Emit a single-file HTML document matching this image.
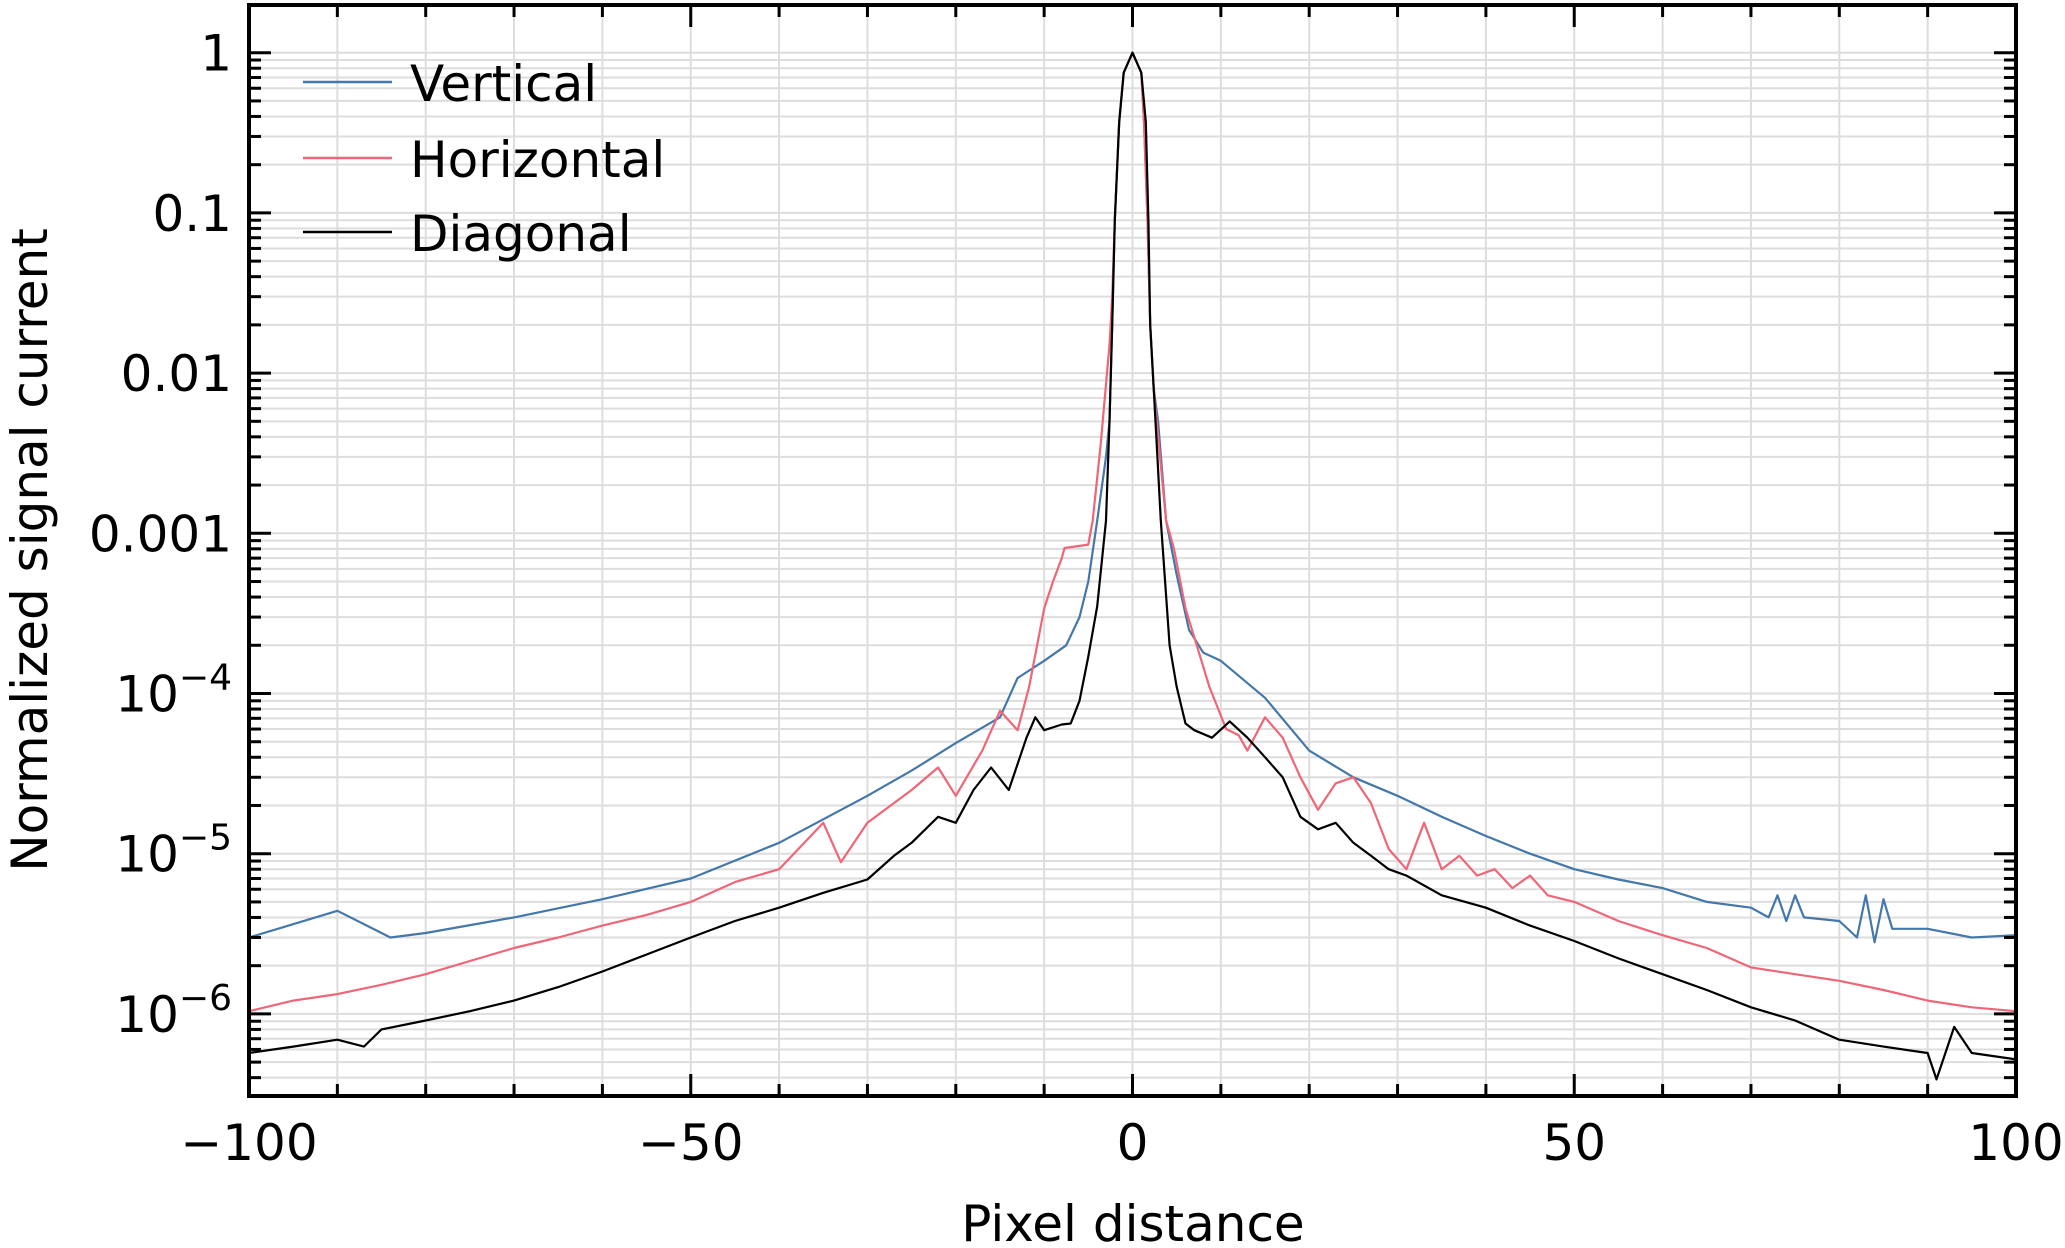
<!DOCTYPE html>
<html><head><meta charset="utf-8"><style>
html,body{margin:0;padding:0;background:#fff;}
svg{display:block;font-family:"DejaVu Sans","Liberation Sans",sans-serif;}
</style></head><body>
<svg id="chart" width="2065" height="1248" viewBox="0 0 2065 1248" xmlns="http://www.w3.org/2000/svg">
<g id="grid"></g>
<g id="series"></g>
<g id="ticks"></g>
<rect x="249" y="5" width="1767" height="1091" fill="none" stroke="#000" stroke-width="4"/>
<g id="labels"></g>
<text x="1133" y="1241" font-size="50" text-anchor="middle">Pixel distance</text>
<text transform="translate(47,550) rotate(-90)" font-size="50" text-anchor="middle">Normalized signal current</text>
<g>
<line x1="303" y1="82" x2="392" y2="82" stroke="#4477aa" stroke-width="2.5"/>
<text x="410" y="101" font-size="50">Vertical</text>
<line x1="303" y1="158" x2="392" y2="158" stroke="#ee6677" stroke-width="2.5"/>
<text x="410" y="177" font-size="50">Horizontal</text>
<line x1="303" y1="232" x2="392" y2="232" stroke="#000" stroke-width="2.5"/>
<text x="410" y="251" font-size="50">Diagonal</text>
</g>
</svg>
<script>
const verticalX=[-100,-90,-84,-80,-70,-60,-50,-40,-30,-25,-20,-15,-13,-10,-7.5,-6,-5,-4,-3,-2.6,-2.3,-2,-1.5,-1,0,1,1.3,1.7,2,2.4,2.9,3.8,5,6.4,8,10,15,20,25,30,35,40,45,50,55,60,65,70,72,73,74,75,76,80,82,83,84,85,86,90,95,100];
const verticalY=[3.0e-6,4.4e-6,3.0e-6,3.2e-6,4.0e-6,5.2e-6,7.0e-6,1.17e-5,2.3e-5,3.3e-5,4.9e-5,7.1e-5,1.25e-4,1.6e-4,2.0e-4,3.0e-4,5.0e-4,1.2e-3,3.0e-3,5.0e-3,0.02,0.09,0.37,0.75,1,0.75,0.37,0.09,0.02,8e-3,5e-3,1.2e-3,5.5e-4,2.5e-4,1.8e-4,1.6e-4,9.4e-5,4.4e-5,3.0e-5,2.3e-5,1.7e-5,1.29e-5,1.0e-5,8.0e-6,6.9e-6,6.1e-6,5.0e-6,4.6e-6,4.0e-6,5.5e-6,3.8e-6,5.5e-6,4.0e-6,3.8e-6,3.0e-6,5.5e-6,2.8e-6,5.2e-6,3.4e-6,3.4e-6,3.0e-6,3.1e-6];
const horizontalX=[-100,-95,-90,-85,-80,-75,-70,-65,-60,-55,-50,-45,-40,-35,-33,-30,-25,-22,-20,-17,-15,-13,-11.7,-10,-9,-8,-7.7,-5,-4.5,-3.6,-2.6,-2.3,-2,-1.5,-1,0,1,1.3,1.7,2,2.4,3,3.8,4.7,6,8.7,10.6,12,13,15,17,19,21,23,25,27,29,31,33,35,37,39,41,43,45,47,50,55,60,65,70,75,80,85,90,95,100];
const horizontalY=[1.04e-6,1.21e-6,1.33e-6,1.52e-6,1.77e-6,2.14e-6,2.58e-6,3.0e-6,3.56e-6,4.15e-6,5.0e-6,6.65e-6,8.0e-6,1.56e-5,8.85e-6,1.56e-5,2.5e-5,3.45e-5,2.3e-5,4.4e-5,7.8e-5,5.9e-5,1.1e-4,3.4e-4,5.0e-4,7.0e-4,8.1e-4,8.5e-4,1.2e-3,3.6e-3,1.5e-2,0.03,0.09,0.37,0.75,1,0.75,0.37,0.09,0.02,8e-3,3.5e-3,1.2e-3,8e-4,3.4e-4,1.1e-4,6.0e-5,5.5e-5,4.4e-5,7.1e-5,5.3e-5,3.0e-5,1.88e-5,2.75e-5,3.0e-5,2.07e-5,1.07e-5,8.0e-6,1.56e-5,8.0e-6,9.7e-6,7.3e-6,8.0e-6,6.1e-6,7.3e-6,5.5e-6,5.0e-6,3.8e-6,3.1e-6,2.58e-6,1.95e-6,1.77e-6,1.61e-6,1.41e-6,1.21e-6,1.1e-6,1.04e-6];
const diagonalX=[-100,-95,-90,-87,-85,-80,-75,-70,-65,-60,-55,-50,-45,-40,-35,-30,-27,-25,-22,-20,-18,-16,-14,-12,-11,-10,-8,-7,-6,-5,-4,-3,-2.6,-2.3,-2,-1.5,-1,0,1,1.5,1.8,2,2.6,3.2,4.2,5,6,7,9,11,13,15,17,19,21,23,25,27,29,31,35,40,45,50,55,60,65,70,75,80,85,90,91,93,95,100];
const diagonalY=[5.7e-7,6.25e-7,6.9e-7,6.25e-7,8.0e-7,9.1e-7,1.04e-6,1.21e-6,1.47e-6,1.84e-6,2.35e-6,3.0e-6,3.8e-6,4.6e-6,5.7e-6,6.9e-6,9.7e-6,1.17e-5,1.7e-5,1.56e-5,2.5e-5,3.45e-5,2.5e-5,5.3e-5,7.1e-5,5.9e-5,6.4e-5,6.5e-5,9.0e-5,1.7e-4,3.5e-4,1.2e-3,5e-3,0.02,0.09,0.37,0.75,1,0.75,0.37,0.09,0.02,5e-3,1.2e-3,2.0e-4,1.1e-4,6.5e-5,5.9e-5,5.3e-5,6.7e-5,5.3e-5,4.0e-5,3.0e-5,1.7e-5,1.42e-5,1.56e-5,1.17e-5,9.7e-6,8.0e-6,7.3e-6,5.5e-6,4.6e-6,3.56e-6,2.85e-6,2.22e-6,1.77e-6,1.41e-6,1.1e-6,9.1e-7,6.9e-7,6.25e-7,5.7e-7,3.9e-7,8.3e-7,5.7e-7,5.2e-7];
const xTickValues=[-100,-50,0,50,100];
const xTickLabels=["\u2212100","\u221250","0","50","100"];
const yTickExps=[0,-1,-2,-3,-4,-5,-6];
const yTickLabels=["1","0.1","0.01","0.001","10|\u22124","10|\u22125","10|\u22126"];

const NS="http://www.w3.org/2000/svg";
const L=249,R=2016,T=5,B=1096;
const Y0=52.7, DEC=160.2;
function sx(x){return L+(x+100)/200*(R-L);}
function sy(v){return Y0-Math.log10(v)*DEC;}
function mk(tag,attrs,parent){const e=document.createElementNS(NS,tag);for(const k in attrs)e.setAttribute(k,attrs[k]);parent.appendChild(e);return e;}
const grid=document.getElementById('grid'),ticks=document.getElementById('ticks'),labels=document.getElementById('labels'),series=document.getElementById('series');
for(let x=-100;x<=100;x+=10){
  const X=sx(x);const major=x%50===0;
  const g=mk('line',{x1:X,x2:X,y1:T,y2:B,stroke:'#dddddd','stroke-width':2},grid);
  
  
  const len=major?22:12;
  const t1=mk('line',{x1:X,x2:X,y1:B,y2:B-len,stroke:'#000','stroke-width':3},ticks);
  
  
  const t2=mk('line',{x1:X,x2:X,y1:T,y2:T+len,stroke:'#000','stroke-width':3},ticks);
  
  
}
for(let e=-7;e<=0;e++){
  for(let m=1;m<=9;m++){
    const v=m*Math.pow(10,e);const Y=sy(v);
    if(Y<T||Y>B)continue;
    const major=m===1;
    const g=mk('line',{x1:L,x2:R,y1:Y,y2:Y,stroke:'#dddddd','stroke-width':2},grid);
    
    
    const len=major?22:12;
    const t1=mk('line',{x1:L,x2:L+len,y1:Y,y2:Y,stroke:'#000','stroke-width':3},ticks);
    
    
    const t2=mk('line',{x1:R,x2:R-len,y1:Y,y2:Y,stroke:'#000','stroke-width':3},ticks);
    
    
  }
}
xTickValues.forEach((v,i)=>{
  const t=mk('text',{x:sx(v),y:1160,'font-size':50,'text-anchor':'middle'},labels);
  t.textContent=xTickLabels[i];
  
  
});
yTickExps.forEach((e,i)=>{
  const Y=sy(Math.pow(10,e));
  const parts=yTickLabels[i].split('|');
  const t=mk('text',{x:232,y:Y+18,'font-size':50,'text-anchor':'end'},labels);
  
  
  if(parts.length===1){t.textContent=parts[0];}
  else{
    const a=mk('tspan',{},t);a.textContent=parts[0];
    const b=mk('tspan',{dy:-22,'font-size':36},t);b.textContent=parts[1];
  }
});
function drawSeries(xs,ys,color,name){
  const d=xs.map((x,i)=>(i?'L':'M')+sx(x).toFixed(1)+','+sy(ys[i]).toFixed(1)).join('');
  const p=mk('path',{d:d,fill:'none',stroke:color,'stroke-width':2.2,'stroke-linejoin':'round'},series);
  
  
}
drawSeries(verticalX,verticalY,'#4477aa','vertical-line');
drawSeries(horizontalX,horizontalY,'#ee6677','horizontal-line');
drawSeries(diagonalX,diagonalY,'#000000','diagonal-line');
</script>
</body></html>
